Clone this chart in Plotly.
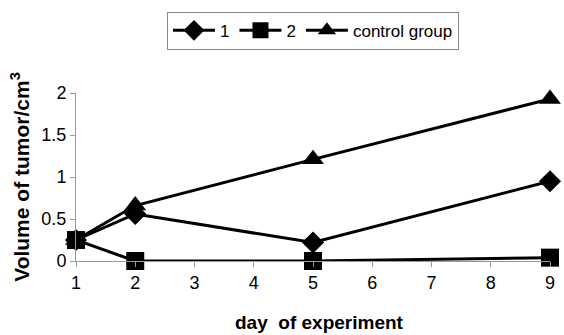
import plotly.graph_objects as go

days = [1, 2, 5, 9]
series_names = ["1", "2", "control group"]
s1 = [0.25, 0.56, 0.22, 0.95]
s2 = [0.25, 0.0, 0.0, 0.04]
control = [0.25, 0.66, 1.21, 1.93]
symbols = ["diamond", "square", "triangle-up"]
x_ticks = [1, 2, 3, 4, 5, 6, 7, 8, 9]
y_ticks = [0, 0.5, 1, 1.5, 2]
y_tick_text = ["0", "0.5", "1", "1.5", "2"]

fig = go.Figure()
sizes = [17, 18, 19]
traces = list(zip(series_names, [s1, s2, control], symbols, sizes, [1, 2, 3]))
draw_order = [0, 2, 1]
for i in draw_order:
    name, vals, sym, sz, rank = traces[i]
    fig.add_trace(go.Scatter(
        x=days, y=vals, name=name, mode="lines+markers",
        line=dict(color="black", width=3),
        marker=dict(symbol=sym, size=sz, color="black"),
        cliponaxis=False, legendrank=rank,
    ))

fig.update_layout(
    width=564, height=335,
    margin=dict(l=76, r=9, t=93, b=74),
    paper_bgcolor="white", plot_bgcolor="white",
    font=dict(family="Liberation Sans, Arial", color="black", size=18),
    showlegend=True,
    legend=dict(
        orientation="h", x=0.5, xanchor="center", y=0.965, yanchor="top",
        yref="container",
        bordercolor="#888888", borderwidth=1,
        font=dict(size=17, family="Liberation Sans Narrow, Liberation Sans"),
        itemwidth=42, tracegroupgap=0,
    ),
    xaxis=dict(
        range=[1, 9], tickvals=x_ticks, showgrid=False, zeroline=False,
        showline=True, linecolor="#999999", linewidth=1,
        ticks="outside", ticklen=5, tickcolor="#999999",
        tickfont=dict(size=18),
    ),
    yaxis=dict(
        range=[0, 2], tickvals=y_ticks, ticktext=y_tick_text, showgrid=False, zeroline=False,
        showline=True, linecolor="#999999", linewidth=1,
        ticks="outside", ticklen=5, tickcolor="#999999",
        tickfont=dict(size=18),
        title=dict(text="<b>Volume of tumor/cm<sup>3</sup></b>", font=dict(size=21), standoff=6),
    ),
    annotations=[dict(
        text="<b>day  of experiment</b>", xref="paper", yref="paper",
        x=0.514, y=-0.365, xanchor="center", yanchor="middle",
        showarrow=False, font=dict(size=19),
    )],
)

fig.write_html("out.html")
